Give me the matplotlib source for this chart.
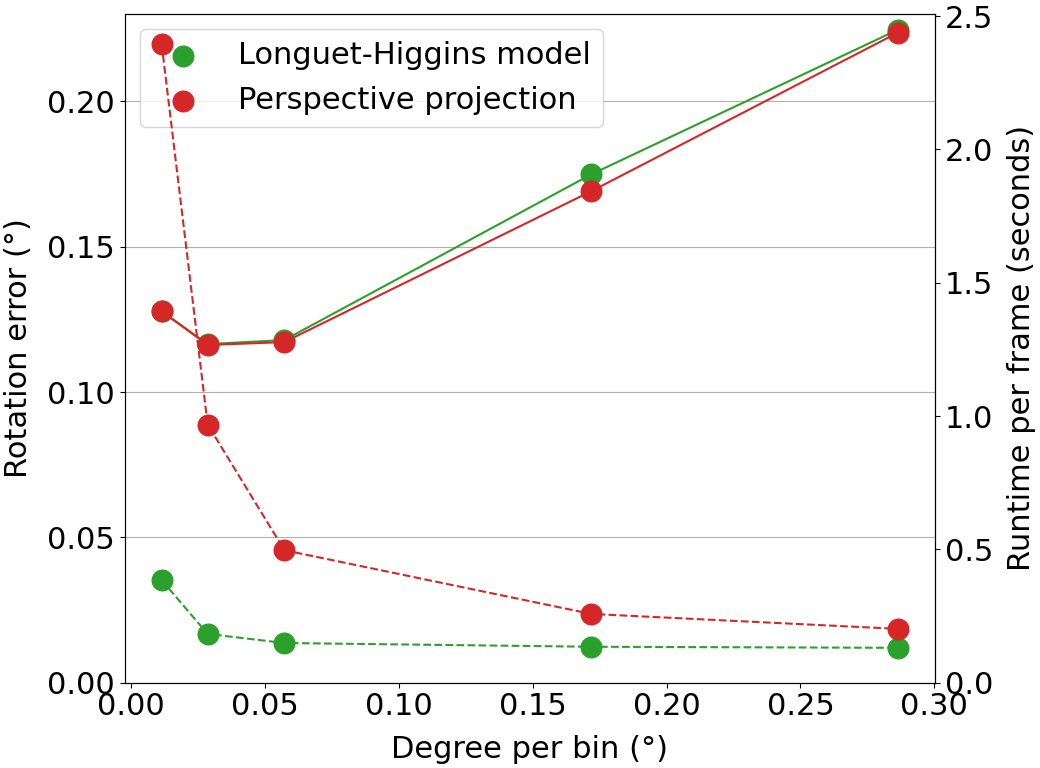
import matplotlib
matplotlib.use("Agg")
import matplotlib.pyplot as plt

degree_per_bin = [0.01146, 0.02865, 0.05730, 0.17189, 0.28648]

rot_err_lh = [0.1278, 0.1165, 0.1179, 0.1749, 0.2247]
rot_err_pp = [0.1278, 0.1162, 0.1172, 0.1691, 0.2237]

runtime_lh = [0.385, 0.183, 0.149, 0.135, 0.131]
runtime_pp = [2.395, 0.968, 0.497, 0.258, 0.202]

labels = ["Longuet-Higgins model", "Perspective projection"]
GREEN = "#2ca02c"
RED = "#d62728"
FS = 22

fig = plt.figure(figsize=(10.4, 7.68), dpi=100)
ax = fig.add_axes([0.120, 0.111, 0.779, 0.871])
ax2 = ax.twinx()

ax.plot(degree_per_bin, rot_err_lh, color=GREEN, lw=1.5)
ax.scatter(degree_per_bin, rot_err_lh, color=GREEN, s=220, label=labels[0], zorder=3)
ax.plot(degree_per_bin, rot_err_pp, color=RED, lw=1.5)
ax.scatter(degree_per_bin, rot_err_pp, color=RED, s=220, label=labels[1], zorder=3)

ax2.plot(degree_per_bin, runtime_lh, color=GREEN, lw=1.5, ls="--")
ax2.scatter(degree_per_bin, runtime_lh, color=GREEN, s=220, zorder=3)
ax2.plot(degree_per_bin, runtime_pp, color=RED, lw=1.5, ls="--")
ax2.scatter(degree_per_bin, runtime_pp, color=RED, s=220, zorder=3)

ax.set_ylim(bottom=0)
ax2.set_ylim(bottom=0)
ax.set_yticks([0.0, 0.05, 0.10, 0.15, 0.20])
ax.set_xticks([0.0, 0.05, 0.10, 0.15, 0.20, 0.25, 0.30])
ax2.set_yticks([0.0, 0.5, 1.0, 1.5, 2.0, 2.5])
ax.yaxis.grid(True, color="#b0b0b0", lw=0.8)
ax.set_axisbelow(True)

ax.tick_params(labelsize=FS)
ax2.tick_params(labelsize=FS)
ax.set_xlabel("Degree per bin (°)", fontsize=FS, labelpad=10)
ax.set_ylabel("Rotation error (°)", fontsize=FS, labelpad=10)
ax2.set_ylabel("Runtime per frame (seconds)", fontsize=FS, labelpad=10)

ax.legend(loc="upper left", fontsize=FS, scatterpoints=1)

fig.savefig("out.png", dpi=100)
